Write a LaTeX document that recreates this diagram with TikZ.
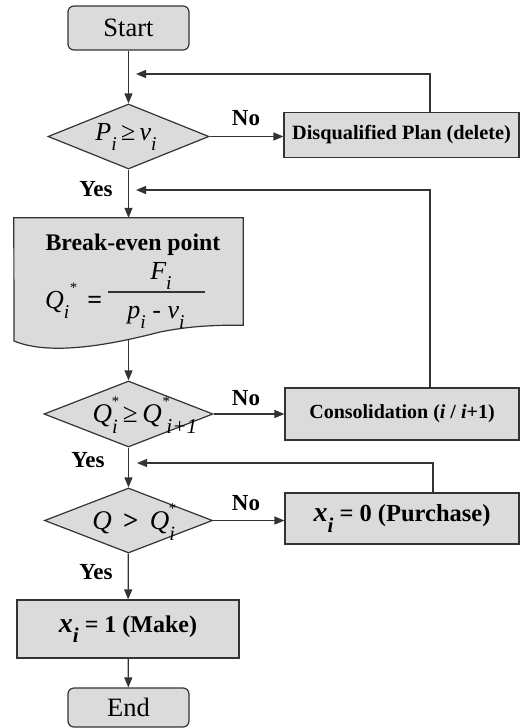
\documentclass[tikz,border=0pt]{standalone}
\usepackage{fontspec}
\setmainfont{Liberation Serif}
\usetikzlibrary{arrows.meta,shapes.geometric}
\newcommand\dn[1]{\raisebox{-0.38em}{\scalebox{0.75}{#1}}}
\newcommand\upr[1]{\raisebox{0.6em}{\scalebox{0.55}{#1}}}
\newcommand\fs[1]{\fontsize{#1}{#1}\selectfont}
\colorlet{lc}{black!80}
\colorlet{bg}{black!14}
\tikzset{
  box/.style={draw=lc, fill=bg, line width=1.2pt, inner sep=0pt},
  term/.style={box, rounded corners=6pt, minimum width=121pt, font=\fs{26.5}},
  dec/.style={diamond, draw=lc, fill=bg, line width=1.2pt, inner sep=0pt},
  arr/.style={draw=lc, line width=1.2pt, -{Triangle[length=10pt,width=8pt]}},
  lbl/.style={inner sep=0pt, font=\fs{23}\bfseries},
  txt/.style={inner sep=0pt, font=\fs{26}},
}
\begin{document}
\begin{tikzpicture}[x=1pt,y=-1pt]
\useasboundingbox (0,0) rectangle (520,728);
% terminals
\node[term, minimum height=44pt] (start) at (128.5,28) {Start};
\node[term, minimum height=39pt] (end) at (128.5,707.5) {End};
% decision 1
\node[dec, minimum width=161pt, minimum height=65pt] (d1) at (128.5,136.5) {};
\node[txt] (d1t) at (126,137) {\itshape P\dn{i}\,{\upshape ≥}\,v\dn{i}};
\node[box, minimum width=235pt, minimum height=45pt, font=\fs{20.3}\bfseries] (dq) at (401.5,135) {Disqualified Plan (delete)};
% break-even document
\node[inner sep=0pt, minimum width=229pt, minimum height=107pt] (be) at (128.5,271.5) {};
\draw[draw=lc, fill=bg, line width=1.2pt] (be.south east) -- (be.north east) -- (be.north west) -- (14,341)
  .. controls (50,356) and (110,345) .. (160,332)
  .. controls (190,326) and (215,325) .. (be.south east) -- cycle;
\node[inner sep=0pt, font=\fs{23.8}\bfseries] (bet) at (133,245) {Break-even point};
\node[txt, anchor=west] (qs) at (45,301) {{\itshape Q\dn{i}\upr{*}}\, \textbf{=}};
\draw[draw=lc, line width=1.3pt] (108,292) -- (205,292);
\node[txt] (num) at (161,276) {\itshape F\dn{i}};
\node[txt] (den) at (156,317) {\itshape p\dn{i} {\upshape -} v\dn{i}};
\coordinate (bebot) at (128.5,339);
% decision 2
\node[dec, minimum width=169pt, minimum height=66pt] (d2) at (128.5,414) {};
\node[txt, font=\fs{27}] (d2t) at (145,415) {\itshape Q\dn{i}\hspace{-0.25em}\upr{*}\,{\upshape ≥}\,Q\upr{*}\hspace{-0.1em}\dn{\scalebox{1.05}{i+1}}};
\node[box, minimum width=234pt, minimum height=52pt, font=\fs{20}\bfseries] (co) at (402,414) {Consolidation (\textit{i} / \textit{i}+1)};
% decision 3
\node[dec, minimum width=168pt, minimum height=65pt] (d3) at (128.5,520.5) {};
\node[txt, font=\fs{27}] (d3t) at (134,522) {\itshape Q\, {\upshape\bfseries >}\, Q\dn{i}\hspace{-0.25em}\upr{*}};
\node[box, minimum width=234pt, minimum height=51pt, font=\fs{24.5}\bfseries] (pu) at (402,518.5) {{\itshape\fs{28}x\dn{i}} = 0 (Purchase)};
% make
\node[box, minimum width=222pt, minimum height=58pt, font=\fs{24}\bfseries] (mk) at (128,629) {{\itshape\fs{28}x\dn{i}} = 1 (Make)};
% labels
\node[lbl] (no1) at (246,118) {No};
\node[lbl] (no2) at (246,398) {No};
\node[lbl] (no3) at (246,503) {No};
\node[lbl] (yes1) at (96,189) {Yes};
\node[lbl] (yes2) at (88,460) {Yes};
\node[lbl] (yes3) at (96,572) {Yes};
% junctions
\coordinate (j1) at (136,74);
\coordinate (j2) at (136,190);
\coordinate (j3) at (137,463);
% connectors
\draw[arr] (start) -- (d1);
\draw[arr] (d1.east) -- (d1.east -| dq.west);
\draw[arr] (d1) -- (be.north);
\draw[arr] (bebot) -- (d2);
\draw[arr] (d2.east) -- (d2.east -| co.west);
\draw[arr] (d2) -- (d3);
\draw[arr] (d3.east) -- (d3.east -| pu.west);
\draw[arr] (d3) -- (mk);
\draw[arr] (mk) -- (end);
\draw[arr] ([xshift=28.5pt]dq.north) |- (j1);
\draw[arr] ([xshift=28pt]co.north) |- (j2);
\draw[arr] ([xshift=31pt]pu.north) |- (j3);
\end{tikzpicture}
\end{document}
